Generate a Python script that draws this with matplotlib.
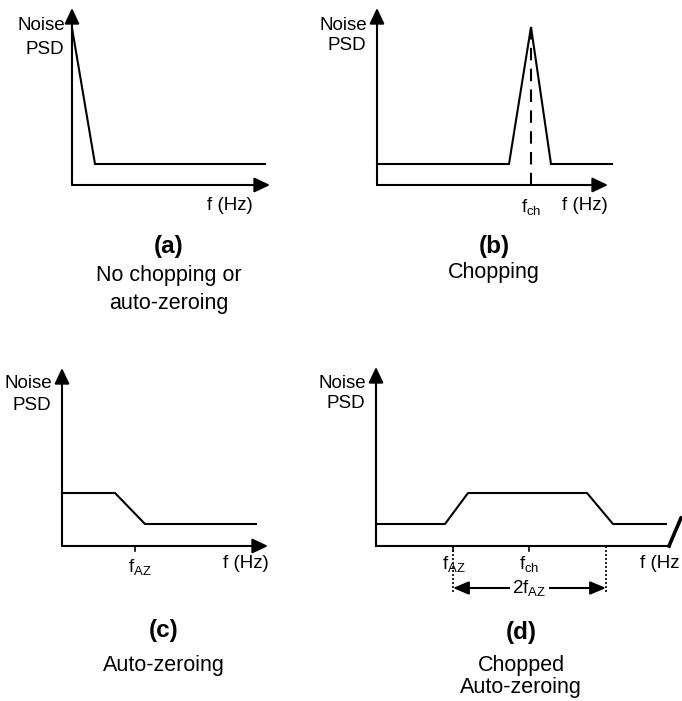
import matplotlib
matplotlib.use("Agg")
import matplotlib.pyplot as plt

plt.rcParams['font.family'] = ['Liberation Sans', 'DejaVu Sans']
plt.rcParams['mathtext.fontset'] = 'custom'
plt.rcParams['mathtext.rm'] = 'Liberation Sans'
plt.rcParams['mathtext.it'] = 'Liberation Sans'

# ---------------- data (local diagram units: frequency, noise PSD) ----------
a_f = [0, 23, 193]
a_psd = [157, 21, 21]

b_f = [0, 132, 154, 174, 235]
b_psd = [21, 21, 158, 21, 21]
b_fch = 154

c_f = [0, 53, 83, 194]
c_psd = [53, 53, 22, 22]
c_faz = 73

d_f = [0, 69, 92, 211, 237, 290]
d_psd = [22, 22, 53, 53, 22, 22]
d_faz = 77
d_fch = 153
d_faz2_end = 230

panel_letters = ['(a)', '(b)', '(c)', '(d)']
panel_captions = [['No chopping or', 'auto-zeroing'], ['Chopping'], ['Auto-zeroing'],
                  ['Chopped', 'Auto-zeroing']]

# ---------------- figure -----------------------------------------------------
W, H = 682, 701
fig = plt.figure(figsize=(W / 100, H / 100), dpi=100)
LW = 1.5
AX_FS = 13.5
CAP_FS = 15.5
LET_FS = 17.5


def panel(ox, oy):
    ax = fig.add_axes([0, 0, 1, 1])
    ax.set_xlim(-ox, W - ox)
    ax.set_ylim(oy - H, oy)
    ax.axis('off')
    ax.patch.set_alpha(0)
    return ax


def axis_arrow(ax, tip):
    ax.annotate('', xy=tip, xytext=(0, 0),
                arrowprops=dict(arrowstyle='-|>,head_length=0.95,head_width=0.45',
                                mutation_scale=10, lw=LW, color='k',
                                shrinkA=0, shrinkB=0))


def ylab(ax, xr, y1, y2):
    ax.text(xr, y1, 'Noise', ha='right', va='center', fontsize=AX_FS)
    ax.text(xr - 1, y2, 'PSD', ha='right', va='center', fontsize=AX_FS)


# panel (a)
ax = panel(72, 185)
axis_arrow(ax, (198, 0))
axis_arrow(ax, (0, 177))
ax.plot(a_f, a_psd, color='k', lw=LW, solid_joinstyle='miter')
ylab(ax, -7, 159, 135)
ax.text(158, -20, 'f (Hz)', ha='center', va='center', fontsize=AX_FS)

# panel (b)
ax = panel(377, 185)
axis_arrow(ax, (231, 0))
axis_arrow(ax, (0, 177))
ax.plot(b_f, b_psd, color='k', lw=LW, solid_joinstyle='miter')
ax.plot([b_fch, b_fch], [max(b_psd), -6], color='k', lw=LW, dashes=(6, 4))
ylab(ax, -10, 160, 140)
ax.text(b_fch, -22, r'$\mathrm{f_{ch}}$', ha='center', va='center', fontsize=AX_FS)
ax.text(208, -21, 'f (Hz)', ha='center', va='center', fontsize=AX_FS)

# panel (c)
ax = panel(62, 546)
axis_arrow(ax, (206, 0))
axis_arrow(ax, (0, 178))
ax.plot(c_f, c_psd, color='k', lw=LW, solid_joinstyle='round')
ax.plot([c_faz, c_faz], [0, -5], color='k', lw=1.2)
ylab(ax, -10, 162, 140)
ax.text(c_faz + 5, -21, r'$\mathrm{f_{AZ}}$', ha='center', va='center', fontsize=AX_FS)
ax.text(184, -17, 'f (Hz)', ha='center', va='center', fontsize=AX_FS)

# panel (d)
ax = panel(376, 546)
ax.plot([0, 294], [0, 0], color='k', lw=LW)
ax.plot([293, 305], [0, 28], color='k', lw=2.6)
axis_arrow(ax, (0, 179))
ax.plot(d_f, d_psd, color='k', lw=LW, solid_joinstyle='round')
for xv in (d_faz, d_fch):
    ax.plot([xv, xv], [0, -5], color='k', lw=1.2)
for xv in (d_faz, d_faz2_end):
    ax.plot([xv, xv], [0, -47], color='k', lw=1.2, linestyle=(0, (1.2, 1.2)))
ax.annotate('', xy=(d_faz2_end, -42), xytext=(d_faz, -42),
            arrowprops=dict(arrowstyle='<|-|>,head_length=0.95,head_width=0.4',
                            mutation_scale=10, lw=LW, color='k',
                            shrinkA=0, shrinkB=0))
ax.text((d_faz + d_faz2_end) / 2, -42, r'$\mathrm{2f_{AZ}}$', ha='center', va='center',
        fontsize=AX_FS, bbox=dict(facecolor='white', edgecolor='none', pad=1.5))
ylab(ax, -10, 163, 142)
ax.text(d_faz + 1, -18, r'$\mathrm{f_{AZ}}$', ha='center', va='center', fontsize=AX_FS)
ax.text(d_fch, -18, r'$\mathrm{f_{ch}}$', ha='center', va='center', fontsize=AX_FS)
ax.text(264, -17, 'f (Hz', ha='left', va='center', fontsize=AX_FS)

# captions
cap_pos = [(169, 247, [275, 303]), (494, 247, [273]), (164, 631, [666]),
           (521, 632, [665, 687])]
for (x, yl, ycs), let, caps in zip(cap_pos, panel_letters, panel_captions):
    fig.text(x / W, 1 - yl / H, let, ha='center', va='center',
             fontsize=LET_FS, fontweight='bold')
    for yc, cap in zip(ycs, caps):
        fig.text(x / W, 1 - yc / H, cap, ha='center', va='center', fontsize=CAP_FS)

fig.savefig('out.png', dpi=100)
